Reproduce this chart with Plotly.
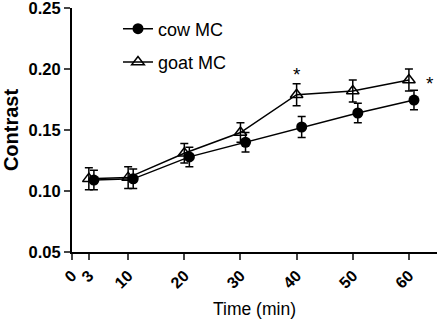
import plotly.graph_objects as go

time_min = [3, 10, 20, 30, 40, 50, 60]
cow_mc = [0.109, 0.110, 0.128, 0.140, 0.1525, 0.164, 0.1746]
cow_err = [0.008, 0.008, 0.008, 0.008, 0.0086, 0.008, 0.008]
goat_mc = [0.110, 0.111, 0.131, 0.148, 0.179, 0.182, 0.191]
goat_err = [0.009, 0.009, 0.008, 0.008, 0.009, 0.009, 0.009]
x_ticks = [0, 3, 10, 20, 30, 40, 50, 60]
y_ticks = [0.05, 0.10, 0.15, 0.20, 0.25]
sig_x = [40, 63.8]
sig_y = [0.1955, 0.1885]

cow_x = [t + 0.9 for t in time_min]

fig = go.Figure()
fig.add_trace(go.Scatter(
    x=time_min, y=goat_mc, name="goat MC", mode="lines+markers",
    line=dict(color="black", width=1.5),
    marker=dict(symbol="triangle-up-open", size=11, color="black", line=dict(width=1.5)),
    error_y=dict(type="data", array=goat_err, color="black", thickness=1.5, width=4),
    legendgroup="b", legendrank=2, cliponaxis=False,
))
fig.add_trace(go.Scatter(
    x=cow_x, y=cow_mc, name="cow MC", mode="lines+markers",
    line=dict(color="black", width=1.5),
    marker=dict(symbol="circle", size=11, color="black"),
    error_y=dict(type="data", array=cow_err, color="black", thickness=1.5, width=4),
    legendgroup="a", legendrank=1, cliponaxis=False,
))
for sx, sy in zip(sig_x, sig_y):
    fig.add_annotation(x=sx, y=sy, xref="x", yref="y", text="*", showarrow=False,
                       font=dict(family="Liberation Sans, Arial", size=19, color="black"))

fig.update_layout(
    width=440, height=321,
    margin=dict(l=72, r=3, t=8, b=69, autoexpand=False),
    plot_bgcolor="white", paper_bgcolor="white",
    font=dict(family="Liberation Sans, Arial", color="black"),
    showlegend=True,
    legend=dict(x=0.126, y=0.99, xanchor="left", yanchor="top",
                font=dict(size=18), tracegroupgap=7, bgcolor="rgba(0,0,0,0)"),
    xaxis=dict(range=[0, 65], tickvals=x_ticks, ticktext=[str(v) for v in x_ticks],
               tickangle=-45, ticks="outside", ticklen=6, tickwidth=2, automargin=False,
               ticklabeloverflow="allow",
               showline=True, linewidth=2, linecolor="black", showgrid=False, zeroline=False,
               tickfont=dict(size=16, family="Liberation Sans, Arial", weight="bold"),
               title=dict(text="Time (min)", font=dict(size=17.5), standoff=12)),
    yaxis=dict(range=[0.05, 0.2501], tickvals=y_ticks, ticktext=["%.2f" % v for v in y_ticks],
               ticks="outside", ticklen=6, tickwidth=2, automargin=False,
               ticklabeloverflow="allow",
               showline=True, linewidth=2, linecolor="black", showgrid=False, zeroline=False,
               tickfont=dict(size=16.5, family="Liberation Sans, Arial", weight="bold"),
               title=dict(text="<b>Contrast</b>", font=dict(size=20), standoff=6)),
)
fig.write_html("out.html", config={"displayModeBar": False},
               post_script="document.body.style.margin='0';document.body.style.overflow='hidden';")
